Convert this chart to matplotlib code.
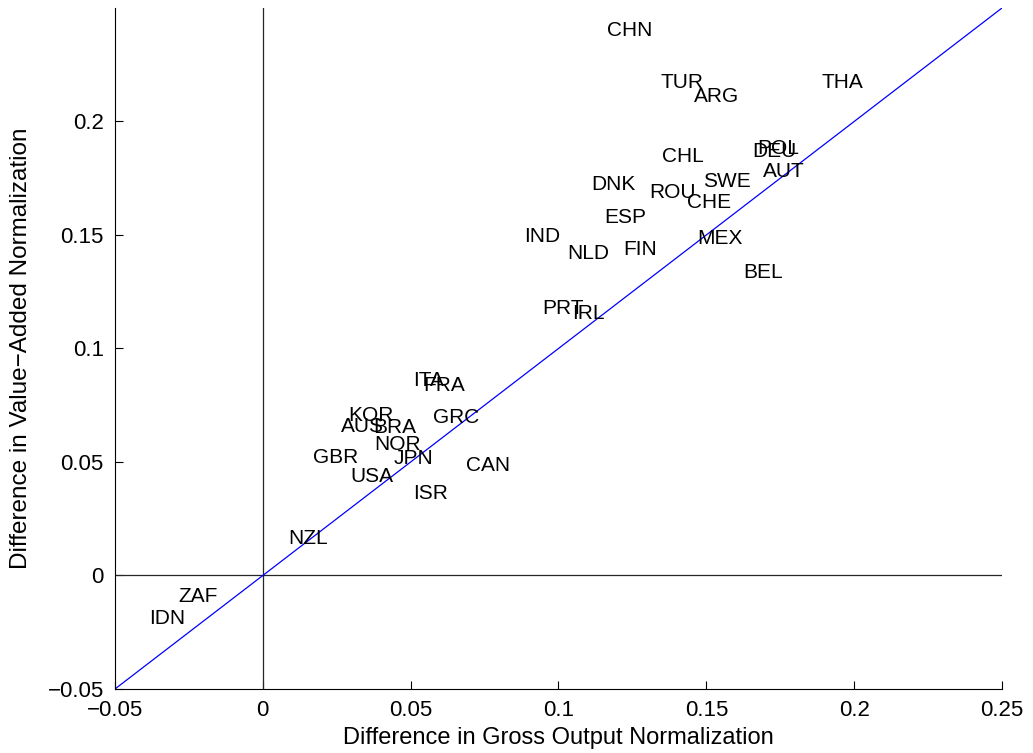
import matplotlib
matplotlib.use('Agg')
import matplotlib.pyplot as plt

plt.rcParams['font.family'] = ['Liberation Sans', 'DejaVu Sans']
plt.rcParams['axes.unicode_minus'] = True

# country codes with (gross output, value-added) normalization differences
countries = ['CHN', 'TUR', 'ARG', 'THA', 'DEU', 'POL', 'AUT', 'CHL', 'SWE', 'DNK',
             'ROU', 'CHE', 'ESP', 'IND', 'NLD', 'FIN', 'MEX', 'BEL', 'PRT', 'IRL',
             'ITA', 'FRA', 'KOR', 'AUS', 'BRA', 'GRC', 'NOR', 'GBR', 'JPN', 'CAN',
             'USA', 'ISR', 'NZL', 'ZAF', 'IDN']
gross_diff = [0.1164, 0.1346, 0.1458, 0.1890, 0.1654, 0.1671, 0.1691, 0.1350, 0.1489, 0.1110,
              0.1306, 0.1434, 0.1154, 0.0883, 0.1029, 0.1218, 0.1468, 0.1624, 0.0944, 0.1045,
              0.0508, 0.0542, 0.0288, 0.0264, 0.0373, 0.0575, 0.0376, 0.0170, 0.0444, 0.0687,
              0.0295, 0.0508, 0.0085, -0.0287, -0.0385]
va_diff = [0.2400, 0.2172, 0.2110, 0.2172, 0.1868, 0.1881, 0.1780, 0.1846, 0.1736, 0.1722,
           0.1687, 0.1643, 0.1577, 0.1493, 0.1419, 0.1436, 0.1485, 0.1335, 0.1176, 0.1154,
           0.0859, 0.0837, 0.0705, 0.0656, 0.0652, 0.0696, 0.0577, 0.0520, 0.0515, 0.0485,
           0.0436, 0.0361, 0.0163, -0.0093, -0.0189]

lims = [-0.05, 0.25]

fig = plt.figure(figsize=(10.33, 7.53), dpi=100)
ax = fig.add_axes([0.1113, 0.085, 0.8587, 0.9044])

ax.axhline(0, color='#262626', linewidth=0.9)
ax.axvline(0, color='#262626', linewidth=0.9)
ax.plot(lims, lims, color='blue', linewidth=0.9)

for name, gx, vy in zip(countries, gross_diff, va_diff):
    ax.text(gx, vy, name, ha='left', va='center', fontsize=15)

ax.set_xlim(lims)
ax.set_ylim(lims)
ax.set_xticks([-0.05, 0, 0.05, 0.1, 0.15, 0.2, 0.25])
ax.set_yticks([-0.05, 0, 0.05, 0.1, 0.15, 0.2])
ax.set_xticklabels(['\u22120.05', '0', '0.05', '0.1', '0.15', '0.2', '0.25'])
ax.set_yticklabels(['\u22120.05', '0', '0.05', '0.1', '0.15', '0.2'])
ax.tick_params(direction='in', length=6, labelsize=16)
ax.tick_params(axis='x', pad=8)
ax.tick_params(axis='y', pad=8)
ax.spines['top'].set_visible(False)
ax.spines['right'].set_visible(False)

ax.set_xlabel('Difference in Gross Output Normalization', fontsize=17, labelpad=4)
ax.set_ylabel('Difference in Value\u2212Added Normalization', fontsize=17.5, labelpad=11)

fig.savefig('out.png', dpi=100)
